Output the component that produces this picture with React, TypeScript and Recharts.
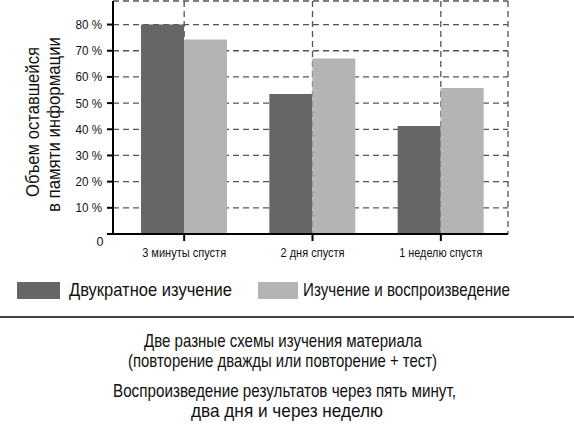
import React from 'react';
import { BarChart, Bar, XAxis, YAxis, CartesianGrid, Legend } from 'recharts';

const categories = ['3 минуты спустя', '2 дня спустя', '1 неделю спустя'];
const twiceStudy = [80, 53.5, 41.3];
const studyRecall = [74.3, 67, 55.8];
const yTicks = [0, 10, 20, 30, 40, 50, 60, 70, 80];
const seriesNames = ['Двукратное изучение', 'Изучение и воспроизведение'];
const seriesColors = ['#666666', '#b4b4b4'];
const yLabelLines = ['Объем оставшейся', 'в памяти информации'];
const captionLines = [
  'Две разные схемы изучения материала',
  '(повторение дважды или повторение + тест)',
  'Воспроизведение результатов через пять минут,',
  'два дня и через неделю',
];

const data = categories.map((name, i) => ({ name, a: twiceStudy[i], b: studyRecall[i] }));

// Styling / layout (text widths to emulate the condensed typeface)
const FONT = "'Liberation Sans', Arial, sans-serif";
const xTickWidths: Record<string, number> = { '3 минуты спустя': 84, '2 дня спустя': 64, '1 неделю спустя': 83 };
const yLabelStyle = [
  { x: 38.5, cy: 122, w: 150 },
  { x: 60, cy: 124.5, w: 175 },
];
const legendStyle = [
  { sx: 17, sw: 43, tx: 69, tw: 163 },
  { sx: 258, sw: 40, tx: 303, tw: 207 },
];
const captionStyle = [
  { cx: 283, y: 347, w: 278 },
  { cx: 282.5, y: 367, w: 309 },
  { cx: 284.5, y: 397, w: 343 },
  { cx: 287, y: 416.5, w: 192 },
];

const YTick = (props: any) => {
  const { x, y, payload } = props;
  const v = payload.value;
  if (v === 0) {
    return (
      <text x={100} y={246} textAnchor="middle" fontSize={13} fill="#111" fontFamily={FONT} textLength={7} lengthAdjust="spacingAndGlyphs">
        0
      </text>
    );
  }
  return (
    <text x={x - 3} y={y + 4.5} textAnchor="end" fontSize={13} fill="#111" fontFamily={FONT} textLength={26.5} lengthAdjust="spacingAndGlyphs">
      {`${v} %`}
    </text>
  );
};

const XTick = (props: any) => {
  const { x, payload } = props;
  const w = xTickWidths[payload.value];
  return (
    <text x={x} y={257} textAnchor="middle" fontSize={13} fill="#111" fontFamily={FONT} textLength={w} lengthAdjust="spacingAndGlyphs">
      {payload.value}
    </text>
  );
};

const YLabel = () => (
  <g>
    {yLabelLines.map((line, i) => {
      const s = yLabelStyle[i];
      return (
        <text
          key={i}
          x={s.x}
          y={s.cy}
          transform={`rotate(-90, ${s.x}, ${s.cy})`}
          textAnchor="middle"
          fontSize={19}
          fill="#111"
          fontFamily={FONT}
          textLength={s.w}
          lengthAdjust="spacingAndGlyphs"
        >
          {line}
        </text>
      );
    })}
  </g>
);

const LegendContent = () => (
  <svg width={574} height={36} style={{ display: 'block' }}>
    {legendStyle.map((it, i) => (
      <g key={i}>
        <rect x={it.sx} y={10} width={it.sw} height={17} fill={seriesColors[i]} />
        <text x={it.tx} y={24} fontSize={18.5} fill="#111" fontFamily={FONT} textLength={it.tw} lengthAdjust="spacingAndGlyphs">
          {seriesNames[i]}
        </text>
      </g>
    ))}
  </svg>
);

export default function App() {
  return (
    <div style={{ position: 'absolute', left: 0, top: 0, width: 574, height: 434, background: '#fff' }}>
      <BarChart width={574} height={310} data={data} margin={{ top: 1, right: 66, left: 0, bottom: 2 }} barGap={0}>
        <CartesianGrid stroke="#555" strokeDasharray="6 4" strokeWidth={1.3} />
        <XAxis
          dataKey="name"
          height={38}
          padding={{ left: 7, right: 3 }}
          tickSize={7}
          tickLine={{ stroke: '#000', strokeWidth: 2 }}
          axisLine={{ stroke: '#000', strokeWidth: 2 }}
          tick={<XTick />}
          interval={0}
        />
        <XAxis xAxisId="top" dataKey="name" orientation="top" height={0} tick={false} tickLine={false} axisLine={{ stroke: '#000', strokeWidth: 2 }} />
        <YAxis
          width={113}
          domain={[0, 89]}
          ticks={yTicks}
          interval={0}
          tickSize={6}
          tickLine={{ stroke: '#000', strokeWidth: 2 }}
          axisLine={{ stroke: '#000', strokeWidth: 2 }}
          tick={<YTick />}
          label={{ content: <YLabel /> }}
        />
        <YAxis yAxisId="right" orientation="right" width={0} domain={[0, 89]} tick={false} tickLine={false} axisLine={{ stroke: '#000', strokeWidth: 2 }} />
        <Legend verticalAlign="bottom" content={<LegendContent />} wrapperStyle={{ left: 0, width: 574, height: 36 }} />
        <Bar dataKey="a" name={seriesNames[0]} fill={seriesColors[0]} barSize={43} isAnimationActive={false} />
        <Bar dataKey="b" name={seriesNames[1]} fill={seriesColors[1]} barSize={43} isAnimationActive={false} />
      </BarChart>
      <svg width={574} height={124} style={{ position: 'absolute', left: 0, top: 310 }}>
        <rect x={0} y={6} width={574} height={2} fill="#444" />
        {captionLines.map((line, i) => {
          const s = captionStyle[i];
          return (
            <text key={i} x={s.cx} y={s.y - 310} textAnchor="middle" fontSize={19} fill="#111" fontFamily={FONT} textLength={s.w} lengthAdjust="spacingAndGlyphs">
              {line}
            </text>
          );
        })}
      </svg>
    </div>
  );
}
